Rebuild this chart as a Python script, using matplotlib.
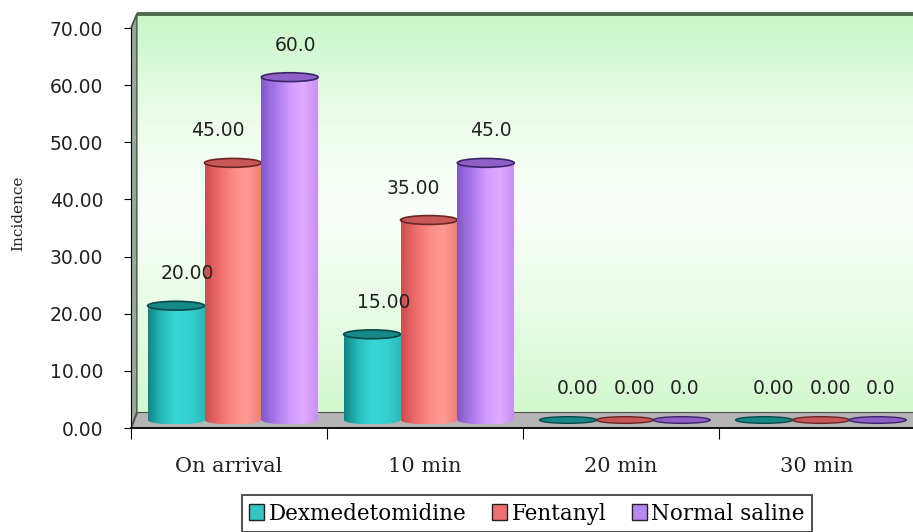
import numpy as np
import matplotlib
matplotlib.use("Agg")
import matplotlib.pyplot as plt
from matplotlib.patches import Rectangle, Ellipse, Polygon, Patch
from matplotlib.colors import LinearSegmentedColormap

categories = ["On arrival", "10 min", "20 min", "30 min"]
series = ["Dexmedetomidine", "Fentanyl", "Normal saline"]
dexmedetomidine = [20.0, 15.0, 0.0, 0.0]
fentanyl = [45.0, 35.0, 0.0, 0.0]
normal_saline = [60.0, 45.0, 0.0, 0.0]
label_formats = ["{:.2f}", "{:.2f}", "{:.1f}"]
y_ticks = [0, 10, 20, 30, 40, 50, 60, 70]

# shading for each cylinder, left edge -> right edge
shades = [
    ["#128484", "#27bcbc", "#3ad6d6", "#36d0d0", "#2bb8b8"],
    ["#cc4e4e", "#ec6c6c", "#fb8a84", "#ff9a92", "#ee7c78"],
    ["#8258c4", "#a878ea", "#cf9afc", "#e0aaff", "#c890f0"],
]
caps = ["#168888", "#c85858", "#9060c8"]
cap_edges = ["#0b4848", "#6a2424", "#3c2468"]
legend_colors = ["#33c6c6", "#f07070", "#b888f0"]
# value label nudges (points) for tall bars and for empty ones
label_dx = [8, -11, 4]
zero_dx = [7, 7, 2]

DEPTH = 2.8      # floor depth in data units
DX = 0.03        # sideways 3d shift
BASE = DEPTH / 2
BAR_W = 0.29
CAP_H = 1.55

fig = plt.figure(figsize=(9.13, 5.32), dpi=100)
top_val = 72.6
ax = fig.add_axes([131 / 913, 104 / 532, 784 / 913, top_val * 5.714 / 532])
ax.set_xlim(0, 4)
ax.set_ylim(0, top_val)

# back wall with green/white gradient
wall = Polygon([(DX, DEPTH), (4.2, DEPTH), (4.2, 72.45), (DX, 72.45)],
               closed=True, facecolor="none", edgecolor="none")
ax.add_patch(wall)
grad = LinearSegmentedColormap.from_list(
    "wall", [(0.0, "#d2f8ce"), (0.5, "#fbfffb"), (0.72, "#eefdec"), (1.0, "#c8f7c8")])
ys = np.linspace(0, 1, 256).reshape(-1, 1)
im = ax.imshow(ys, cmap=grad, aspect="auto", origin="lower",
               extent=[DX, 4.2, DEPTH, 72.45], zorder=0)
im.set_clip_path(wall)

# left side wall
side = Polygon([(0, 0), (DX, DEPTH), (DX, 72.45), (0, 70)], closed=True,
               facecolor="#9aa89a", edgecolor="#3f5a3f", linewidth=1.0, zorder=1)
ax.add_patch(side)
ax.plot([DX, 4.2], [72.45, 72.45], color="#4f6a4f", linewidth=2.8,
        solid_capstyle="butt", zorder=2, clip_on=False)

# floor
floor = Polygon([(0, 0), (4.2, 0), (4.2, DEPTH), (DX, DEPTH)], closed=True,
                facecolor="#b4b4b4", edgecolor="#505050", linewidth=0.8, zorder=1)
ax.add_patch(floor)

bar_cmaps = [LinearSegmentedColormap.from_list(f"c{i}", s) for i, s in enumerate(shades)]
values = [dexmedetomidine, fentanyl, normal_saline]
offsets = [-BAR_W, 0.0, BAR_W]
xs = np.arange(len(categories)) + 0.52
grad_x = np.linspace(0, 1, 128).reshape(1, -1)

for si, vals in enumerate(values):
    for ci, v in enumerate(vals):
        cx = xs[ci] + offsets[si]
        x0 = cx - BAR_W / 2
        z = 3 + si
        if v > 0:
            body = Rectangle((x0, BASE), BAR_W, v, facecolor="none", edgecolor="none")
            ax.add_patch(body)
            bottom = Ellipse((cx, BASE), BAR_W, CAP_H, facecolor="none", edgecolor="none")
            ax.add_patch(bottom)
            b_im = ax.imshow(grad_x, cmap=bar_cmaps[si], aspect="auto",
                             extent=[x0, x0 + BAR_W, BASE - CAP_H / 2, BASE + v], zorder=z)
            b_im.set_clip_path(body)
            e_im = ax.imshow(grad_x, cmap=bar_cmaps[si], aspect="auto",
                             extent=[x0, x0 + BAR_W, BASE - CAP_H / 2, BASE + v], zorder=z)
            e_im.set_clip_path(bottom)
            ax.add_patch(Ellipse((cx, BASE + v), BAR_W, CAP_H, facecolor=caps[si],
                                 edgecolor=cap_edges[si], linewidth=1.2, zorder=z + 0.5))
            dx = label_dx[si]
        else:
            ax.add_patch(Ellipse((cx, BASE), BAR_W, CAP_H * 0.75, facecolor=caps[si],
                                 edgecolor=cap_edges[si], linewidth=1.0, zorder=z))
            dx = zero_dx[si]
        ax.annotate(label_formats[si].format(v), (cx, BASE + v),
                    xytext=(dx, 23), textcoords="offset points",
                    ha="center", va="center", fontsize=13.5, color="#222222",
                    family="DejaVu Sans", zorder=10)

# axes styling
for s in ["top", "right"]:
    ax.spines[s].set_visible(False)
ax.spines["left"].set_bounds(0, 70)
ax.spines["left"].set_zorder(6)
ax.spines["bottom"].set_linewidth(1.3)
ax.spines["bottom"].set_zorder(6)
ax.plot([0, DX], [70, 72.45], color="#3f5a3f", linewidth=1.2, zorder=2, clip_on=False)

ax.set_yticks(y_ticks)
ax.set_yticklabels([f"{t:.2f}" for t in y_ticks], fontsize=13.5, color="#222222")
ax.tick_params(axis="y", direction="out", length=5, pad=15)

ax.set_xticks(np.arange(len(categories) + 1))
ax.set_xticklabels([])
ax.tick_params(axis="x", which="major", direction="out", length=8)
ax.set_xticks(np.arange(len(categories)) + 0.5, minor=True)
ax.set_xticklabels(categories, minor=True, fontsize=15, family="DejaVu Serif", color="#222222")
ax.tick_params(axis="x", which="minor", length=0, pad=21)

fig.text(18 / 913, 1 - 213 / 532, "Incidence", rotation=90, ha="center", va="center",
         fontsize=11, family="DejaVu Serif", color="#222222")

handles = [Patch(facecolor=c, edgecolor="#222222", linewidth=1.0) for c in legend_colors]
leg = fig.legend(handles, series, loc="upper center", bbox_to_anchor=(527 / 913, 1 - 495 / 532),
                 ncol=3, frameon=True, fancybox=False,
                 prop={"family": "DejaVu Serif", "size": 15.5},
                 handlelength=0.7, handleheight=0.7, handletextpad=0.2, columnspacing=1.2,
                 borderpad=0.35, borderaxespad=0)
leg.get_frame().set_edgecolor("#222222")
leg.get_frame().set_linewidth(1.4)

fig.savefig("out.png", dpi=100)
